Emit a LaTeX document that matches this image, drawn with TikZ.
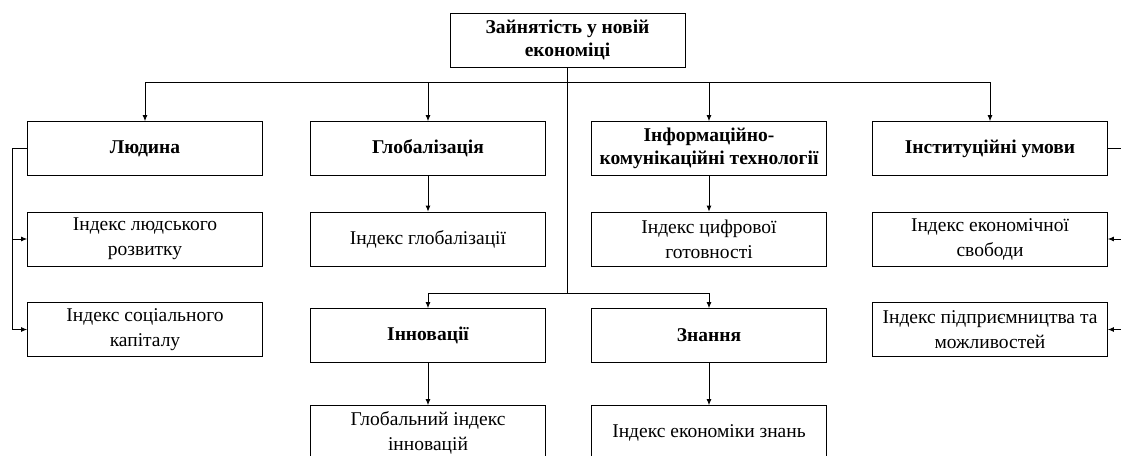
\documentclass[tikz,border=0pt]{standalone}
\usepackage{fontspec}
\setmainfont{Liberation Serif}
\usetikzlibrary{arrows.meta}
\begin{document}
\begin{tikzpicture}[x=1pt,y=-1pt,
  box/.style={draw,line width=0.8pt,minimum width=235pt,minimum height=54pt,align=center,inner sep=2pt,
    font=\fontsize{19.5}{25}\selectfont},
  bbox/.style={box,font=\fontsize{19.5}{23.5}\selectfont\bfseries},
  conn/.style={line width=0.8pt},
  arr/.style={conn,-{Latex[length=6pt,width=5pt]}}]
\useasboundingbox (0,0) rectangle (1121,455);
\node[bbox] (top) at (567.5,40) {Зайнятість у новій\\економіці};
\node[bbox] (h) at (145,148.5) {Людина};
\node[bbox] (g) at (428,148.5) {Глобалізація};
\node[bbox] (ict) at (709,148.5) {Інформаційно-\\комунікаційні технології};
\node[bbox] (inst) at (990,148.5) {Інституційні умови};
\node[box] (h1) at (145,239) {Індекс людського\\розвитку};
\node[box] (h2) at (145,329.5) {Індекс соціального\\капіталу};
\node[box] (g1) at (428,239) {Індекс глобалізації};
\node[box] (ict1) at (709,239) {Індекс цифрової\\готовності};
\node[box] (inst1) at (990,239) {Індекс економічної\\свободи};
\node[box] (inst2) at (990,329.5) {Індекс підприємництва та\\можливостей};
\node[bbox] (inn) at (428,335.5) {Інновації};
\node[bbox] (kn) at (709,335.5) {Знання};
\node[box] (inn1) at (428,432.5) {Глобальний індекс\\інновацій};
\node[box] (kn1) at (709,432.5) {Індекс економіки знань};
% branch coordinates
\coordinate (b1) at (567.5,82);
\coordinate (b2) at (567.5,293);
\coordinate (lb) at (12,148.5);
\coordinate (rb) at (1128,148.5);
\draw[conn] (top.south) -- (b2);
\draw[arr] (b1) -| (h.north);
\draw[arr] (b1) -| (g.north);
\draw[arr] (b1) -| (ict.north);
\draw[arr] (b1) -| (inst.north);
\draw[arr] (b2) -| (inn.north);
\draw[arr] (b2) -| (kn.north);
\draw[arr] (g.south) -- (g1.north);
\draw[arr] (ict.south) -- (ict1.north);
\draw[arr] (inn.south) -- (inn1.north);
\draw[arr] (kn.south) -- (kn1.north);
\draw[conn] (h.west) -- (lb);
\draw[arr] (lb) |- (h1.west);
\draw[arr] (lb) |- (h2.west);
\draw[conn] (inst.east) -- (rb);
\draw[arr] (rb) |- (inst1.east);
\draw[arr] (rb) |- (inst2.east);
\end{tikzpicture}
\end{document}
